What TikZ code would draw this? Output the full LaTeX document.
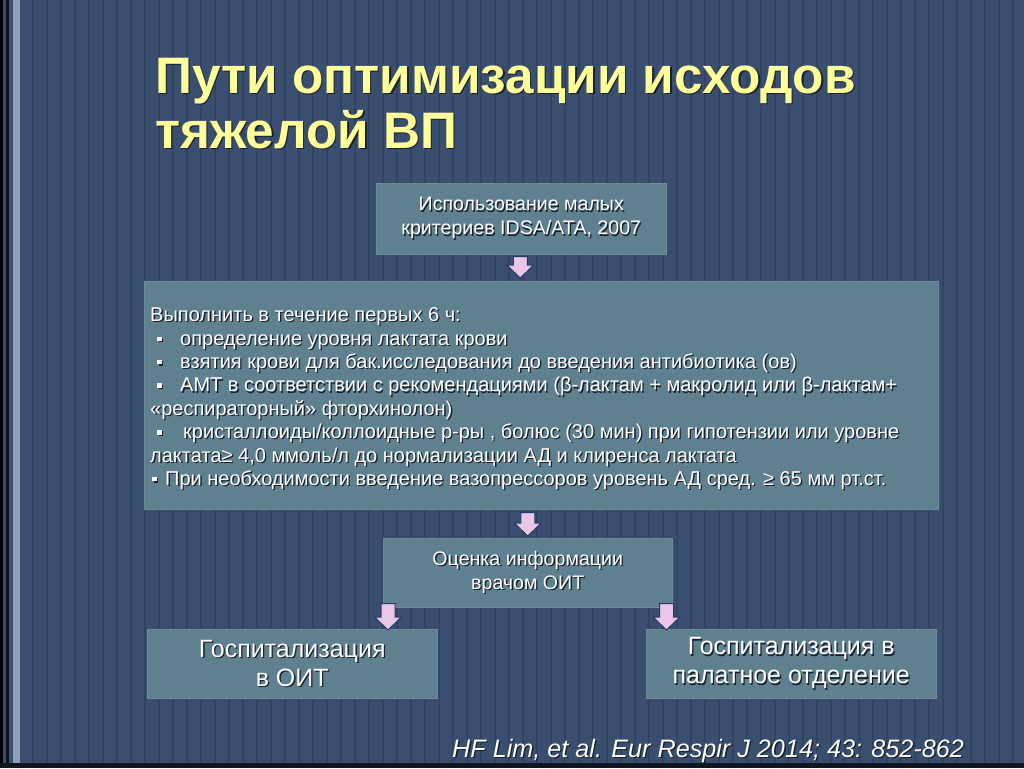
\documentclass[tikz,border=0pt]{standalone}
\usepackage{fontspec}
\setmainfont{Liberation Sans}
\usetikzlibrary{calc}
\definecolor{bg}{HTML}{3A4F6F}
\definecolor{stripe}{HTML}{32455F}
\definecolor{boxc}{HTML}{5F808F}
\definecolor{arrc}{HTML}{E9C6E6}
\definecolor{arrline}{HTML}{27386E}
\definecolor{titlec}{HTML}{FFFF99}
\definecolor{shc}{HTML}{18202C}
\definecolor{framelight}{HTML}{8FA3B8}
\newcommand\sh[2][1.3pt]{\leavevmode\rlap{\kern#1\raisebox{-#1}{\color{shc}#2}}#2}
\newcommand\bul[2]{\makebox[#1][l]{\hspace*{#2}\sh{\raisebox{4pt}{\rule{4.5pt}{4.5pt}}}}}
\newcommand\flowarrow[2]{\draw[arr] let \p1=#1, \p2=#2 in
  (\x1-7pt,\y1) -- (\x1+7pt,\y1) -- (\x1+7pt,\y2+13pt) -- (\x1+13.5pt,\y2+13pt)
  -- (\x1,\y2) -- (\x1-13.5pt,\y2+13pt) -- (\x1-7pt,\y2+13pt) -- cycle;}
\begin{document}
\begin{tikzpicture}[x=1pt,y=-1pt,
  box/.style={fill=boxc, draw=boxc!92!white, line width=0.5pt, inner sep=0pt, anchor=north west},
  boxtext/.style={text=white, align=center, font=\fontsize{19.6}{24}\selectfont},
  bigtext/.style={text=white, align=left, inner sep=0pt, font=\fontsize{20}{23.4}\selectfont},
  hosp/.style={text=white, align=center, font=\fontsize{25}{29}\selectfont},
  titlestyle/.style={text=titlec, inner sep=0pt, align=left, anchor=north west,
    font=\fontsize{51.3}{55}\selectfont\bfseries},
  arr/.style={fill=arrc, draw=arrline, line width=1pt, line join=miter}]
\useasboundingbox (0,0) rectangle (1024,768);
% background
\fill[bg] (0,0) rectangle (1024,768);
\foreach \x in {32,46,...,1024} \fill[stripe] (\x,0) rectangle (\x+2,768);
\fill[black] (0,0) rectangle (3,768);
\fill[black!75!bg] (6,0) rectangle (9,768);
\fill[framelight] (13,0) rectangle (20,768);
\fill[black!70!bg] (0,763) rectangle (1024,768);
% title
\node[titlestyle] (title) at (155,51)
  {\rule{0pt}{42pt}\sh[1.4pt]{Пути оптимизации исходов}\\\sh[1.4pt]{тяжелой ВП}};
% boxes
\node[box, minimum width=290, minimum height=71, boxtext] (top) at (376,183)
  {\sh{Использование малых}\\\sh{критериев IDSA/ATA, 2007}};
\node[box, minimum width=794, minimum height=228] (big) at (144,281) {};
\node[bigtext, anchor=north west] (bigtext) at (150,307.5) {%
\sh{Выполнить в течение первых 6 ч:}\\
\bul{30pt}{7pt}\sh{определение уровня лактата крови}\\
\bul{30pt}{7pt}\sh{взятия крови для бак.исследования до введения антибиотика (ов)}\\
\bul{30pt}{7pt}\sh{АМТ в соответствии с рекомендациями (β-лактам + макролид или β-лактам+}\\
\sh{«респираторный» фторхинолон)}\\
\bul{33pt}{7pt}\sh{кристаллоиды/коллоидные р-ры , болюс (30 мин) при гипотензии или уровне}\\
\sh{лактата≥ 4,0 ммоль/л до нормализации АД и клиренса лактата}\\
\bul{15pt}{2pt}\sh{При необходимости введение вазопрессоров уровень АД сред. ≥ 65 мм рт.ст.}};
\node[box, minimum width=289, minimum height=69, boxtext] (mid) at (383,538)
  {\sh{Оценка информации}\\\sh{врачом ОИТ}};
\node[box, minimum width=290, minimum height=69, hosp] (left) at (147,629)
  {\sh{Госпитализация}\\\sh{в ОИТ}};
\node[box, minimum width=290, minimum height=69, hosp] (right) at (646,629)
  {\sh{Госпитализация в}\\\sh{палатное отделение}};
% arrows
\flowarrow{($(top.south)+(-1,2)$)}{($(top.south |- big.north)+(-1,-3)$)}
\coordinate (a2) at ($(big.south -| mid.north)+(0,3)$);
\flowarrow{(a2)}{($(mid.north)+(0,-2)$)}
\coordinate (a3) at ($(mid.south west)+(5,-4)$);
\flowarrow{(a3)}{($(a3 |- left.north)+(0,1)$)}
\coordinate (a4) at ($(mid.south east)+(-6,-4)$);
\flowarrow{(a4)}{($(a4 |- right.north)+(0,1)$)}
% citation
\node[text=white, inner sep=0pt, anchor=base west, font=\fontsize{25.2}{28}\selectfont\itshape] (cite) at (452,757)
  {\sh{HF Lim, et al. Eur Respir J 2014; 43: 852-862}};
\end{tikzpicture}
\end{document}
